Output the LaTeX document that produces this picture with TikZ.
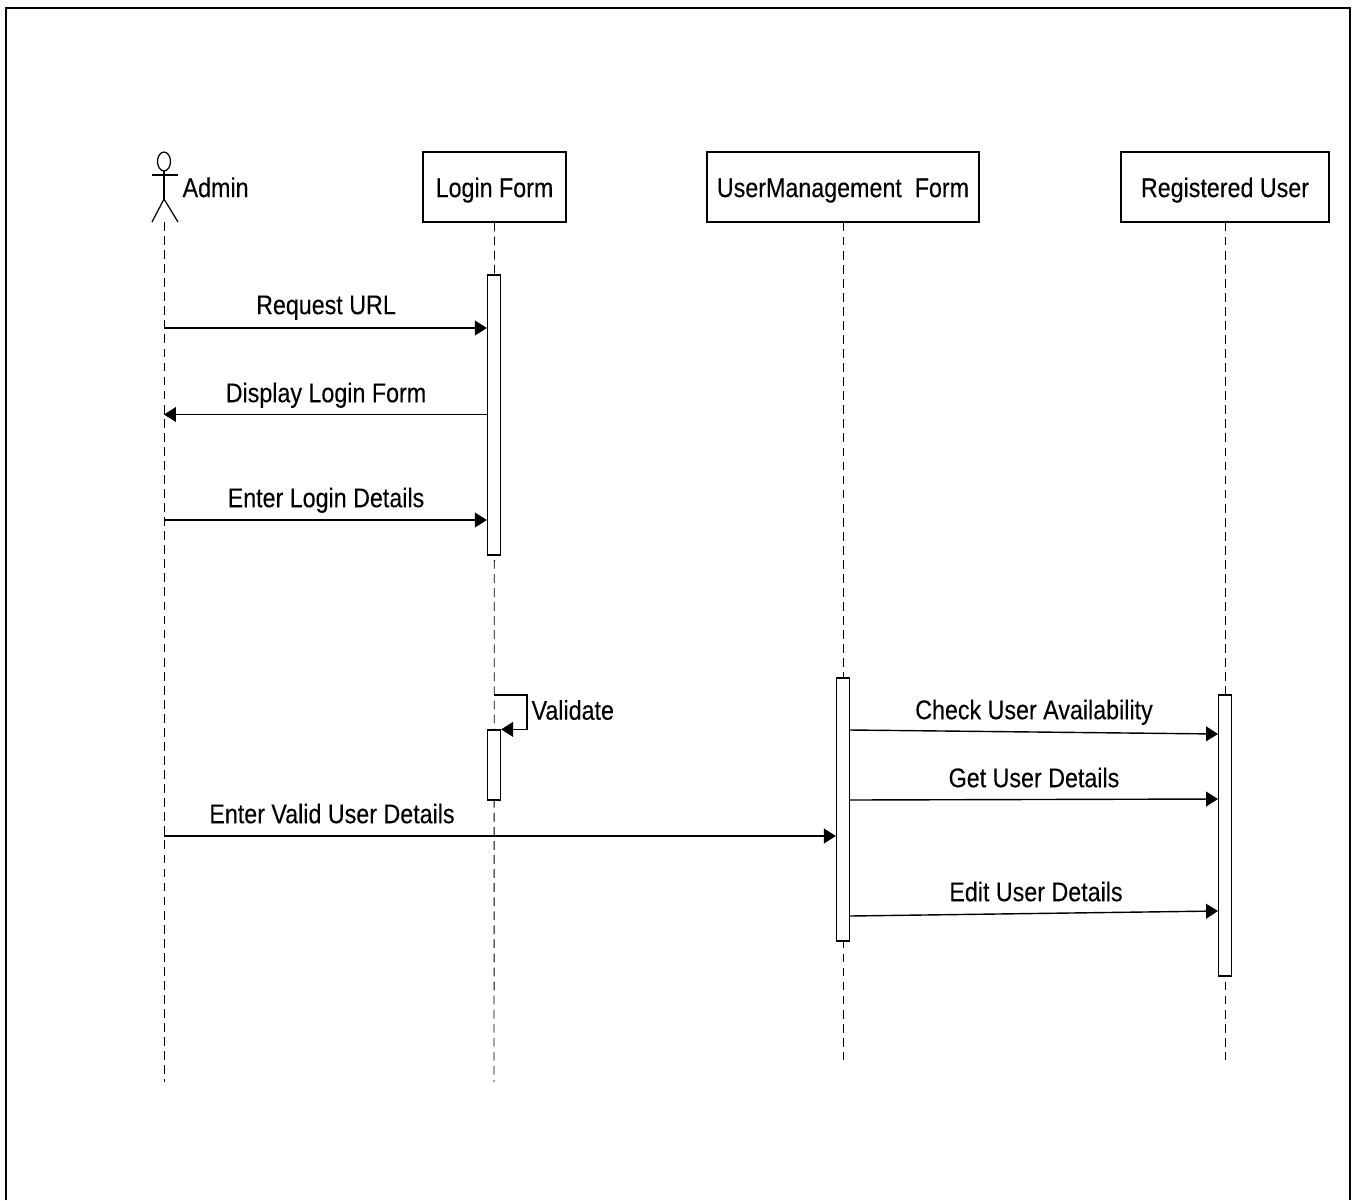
\documentclass[tikz,border=0pt]{standalone}
\usepackage{fontspec}
\setmainfont[FakeStretch=0.86,FakeBold=0.15]{Liberation Sans}
\usepackage{tikz}
\usetikzlibrary{arrows.meta,positioning,calc}

\begin{document}
\begin{tikzpicture}[
    x=0.02cm, y=-0.02cm,
    line width=0.7pt,
    label/.style={inner sep=0pt, text height=10.5pt, text depth=0pt, font=\fontsize{15.4}{18}\selectfont},
    head/.style={rectangle, draw, fill=white, label, text height=11.5pt, minimum height=1.4cm},
    bar/.style={rectangle, draw, fill=white, minimum width=0.26cm, inner sep=0pt},
    life/.style={dashed, dash pattern=on 5pt off 3pt, line width=0.5pt},
    msg/.style={-{Triangle[length=6.8pt,width=8.4pt]}, line width=0.8pt}
]
    \useasboundingbox (0,0) rectangle (1358,1200);

    % Outer frame, open at the bottom
    \draw[line width=1.6pt] (6,1200) -- (6,8) -- (1350,8) -- (1350,1200);

    % Heads
    \node[head, minimum width=2.86cm] (login) at (494.5,187) {Login Form};
    \node[head, minimum width=5.44cm] (manage) at (843,187) {UserManagement\ \ Form};
    \node[head, minimum width=4.16cm] (registered) at (1225,187) {Registered User};

    % Actor
    \coordinate (neck) at (164,171);
    \coordinate (hip) at (164,199);
    \coordinate (adminfoot) at (164,222);
    \draw (164,161.5) ellipse (6.5 and 9.5);
    \draw (neck) -- (hip);
    \draw (152,175) -- (178,175);
    \draw (152,222) -- (hip) -- (178,222);
    \node[label, right=0.36cm of $(neck)!0.6!(hip)$] (admin) {Admin};

    % Lifeline ends
    \coordinate (adminend) at (164,1082);
    \coordinate (loginend) at (494,1082);
    \coordinate (manageend) at (843,1060);
    \coordinate (registeredend) at (1225,1060);

    \draw[life] (adminfoot) -- (adminend);
    \draw[life] (login.south) -- (loginend);
    \draw[life] (manage.south) -- (manageend);
    \draw[life] (registered.south) -- (registeredend);

    % Activation bars
    \node[bar, minimum height=5.6cm] (loginbar) at (494,415) {};
    \node[bar, minimum height=1.4cm] (validbar) at (494,765) {};
    \node[bar, minimum height=5.26cm] (managebar) at (843,809.5) {};
    \node[bar, minimum height=5.62cm] (registeredbar) at (1225,835.5) {};

    % Login messages
    \coordinate (m1) at (164,328);
    \coordinate (m2) at (164,414.5);
    \coordinate (m3) at (164,520);
    \draw[msg] (m1) -- (m1 -| loginbar.west);
    \draw[msg] (m2 -| loginbar.west) -- (m2);
    \draw[msg] (m3) -- (m3 -| loginbar.west);
    \node[label] (m1label) at (326,305) {Request URL};
    \node[label] (m2label) at (326,393) {Display Login Form};
    \node[label] (m3label) at (326,498) {Enter Login Details};

    % Self call
    \coordinate (selftop) at (494,695);
    \coordinate (selfright) at (527,695);
    \draw[msg] (selftop) -- (selfright) -- (selfright |- validbar.north) -- (validbar.north east);
    \node[label, right=0.08cm of $(selfright)!0.45!(selfright |- validbar.north)$] (validate) {Validate};

    % Valid details
    \coordinate (m4) at (164,836);
    \draw[msg] (m4) -- (m4 -| managebar.west);
    \node[label] (m4label) at (332,814) {Enter Valid User Details};

    % Messages to registered user
    \coordinate (m5) at (850,730);
    \coordinate (m5end) at (1218,734);
    \coordinate (m6) at (850,800);
    \coordinate (m6end) at (1218,799);
    \coordinate (m7) at (850,916);
    \coordinate (m7end) at (1218,911);
    \draw[msg] (m5) -- (m5end);
    \draw[msg] (m6) -- (m6end);
    \draw[msg] (m7) -- (m7end);
    \node[label] (m5label) at (1034,710) {Check User Availability};
    \node[label] (m6label) at (1034,778) {Get User Details};
    \node[label] (m7label) at (1036,892) {Edit User Details};
\end{tikzpicture}
\end{document}
